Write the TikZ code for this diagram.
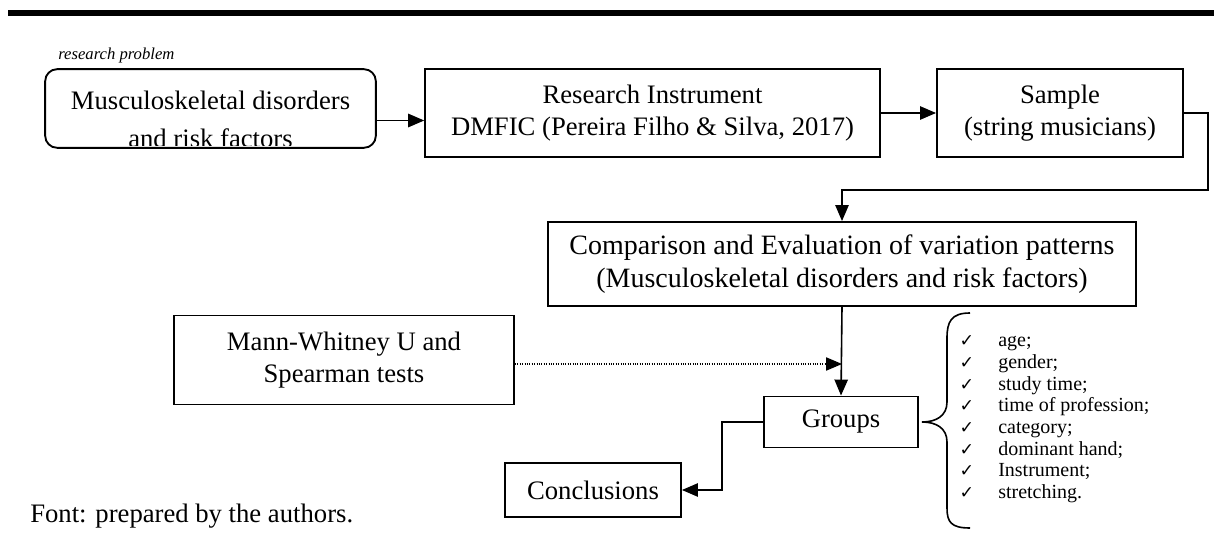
\documentclass[tikz,border=0pt]{standalone}
\usepackage{fontspec}
\setmainfont{Liberation Serif}
\newfontfamily\tickfont{DejaVu Sans}
\usetikzlibrary{arrows.meta}
\newcommand\boxfont{\fontsize{20}{24}\selectfont}

\begin{document}
\begin{tikzpicture}[x=0.75pt, y=-0.75pt,
  box/.style={rectangle, draw, line width=1.4pt, inner sep=0pt,
    align=center, font=\boxfont},
  roundbox/.style={box, rounded corners=9pt},
  link/.style={line width=1.2pt, -{Triangle[length=12pt,width=10pt]}},
  testlink/.style={link, line width=0.8pt, densely dotted},
  factor/.style={anchor=base west, inner sep=0pt,
    font=\fontsize{15}{17}\selectfont},
  tick/.style={anchor=base, inner sep=0pt,
    font=\tickfont\fontsize{13}{15}\selectfont}
]
  \useasboundingbox (0,0) rectangle (1214,538);
  \draw[line width=4.5pt] (8,13) -- (1214,13);

  \node[anchor=base west, inner sep=0pt,
    font=\itshape\fontsize{12.5}{14}\selectfont] (rplabel) at (58,60)
    {research problem};
  \node[roundbox, minimum width=248pt, minimum height=59pt] (prob)
    at (210.5,108.5) {};
  \begin{scope}
    \clip (prob.north west) rectangle ([yshift=2.5pt]prob.south east);
    \node[anchor=base, font=\boxfont, inner sep=0pt] (probA)
      at (210.5,110) {Musculoskeletal disorders};
    \node[anchor=base, font=\boxfont, inner sep=0pt] (probB)
      at (210.5,148) {and risk factors};
  \end{scope}
  \node[box, minimum width=341pt, minimum height=66pt] (instr)
    at (652.5,113) {Research Instrument\\DMFIC (Pereira Filho \& Silva, 2017)};
  \node[box, minimum width=184.5pt, minimum height=66pt] (sample)
    at (1060,113) {Sample\\(string musicians)};
  \node[box, minimum width=441pt, minimum height=63pt,
    font=\fontsize{21}{25}\selectfont] (compar)
    at (842,264) {Comparison and Evaluation of variation patterns\\
    (Musculoskeletal disorders and risk factors)};
  \node[box, minimum width=255pt, minimum height=66.75pt] (mann)
    at (344,360) {Mann-Whitney U and\\Spearman tests};
  \node[box, minimum width=115.5pt, minimum height=38.25pt] (groups)
    at (841,422) {Groups};
  \node[box, minimum width=132pt, minimum height=40.5pt] (conc)
    at (593,490) {Conclusions};
  \node[anchor=base west, inner sep=0pt, font=\boxfont] (source)
    at (30,522) {Font: prepared by the authors.};

  \coordinate (bend) at (1208,190);
  \draw[link] ([yshift=-9pt]prob.east) -- ([yshift=-9pt]prob.east -| instr.west);
  \draw[link] (instr.east) -- (sample.west);
  \draw[link] (sample.east) -| (bend) -| (compar.north);
  \draw[testlink] ([yshift=-3pt]mann.east) -- ([yshift=-3pt]mann.east -| compar.south);
  \draw[link] (compar.south) -- (groups.north);
  \draw[link] (groups.west) -- ++(-41,0) |- (conc.east);

  \draw[line width=1.2pt] (970,313) .. controls (951,313) and (947,322) .. (947,338)
    -- (947,402) .. controls (947,416) and (936,422) .. (922,422)
    .. controls (936,422) and (947,428) .. (947,442)
    -- (947,508) .. controls (947,522) and (951,528) .. (970,528);
  \foreach \fac [count=\i] in {age;, gender;, study time;,
    time of profession;, category;, dominant hand;, Instrument;, stretching.}
  {
    \node[tick] (tick\i) at (967,347+21.6*\i-21.6) {✓};
    \node[factor] (fac\i) at (998,347+21.6*\i-21.6) {\fac};
  }
\end{tikzpicture}
\end{document}
